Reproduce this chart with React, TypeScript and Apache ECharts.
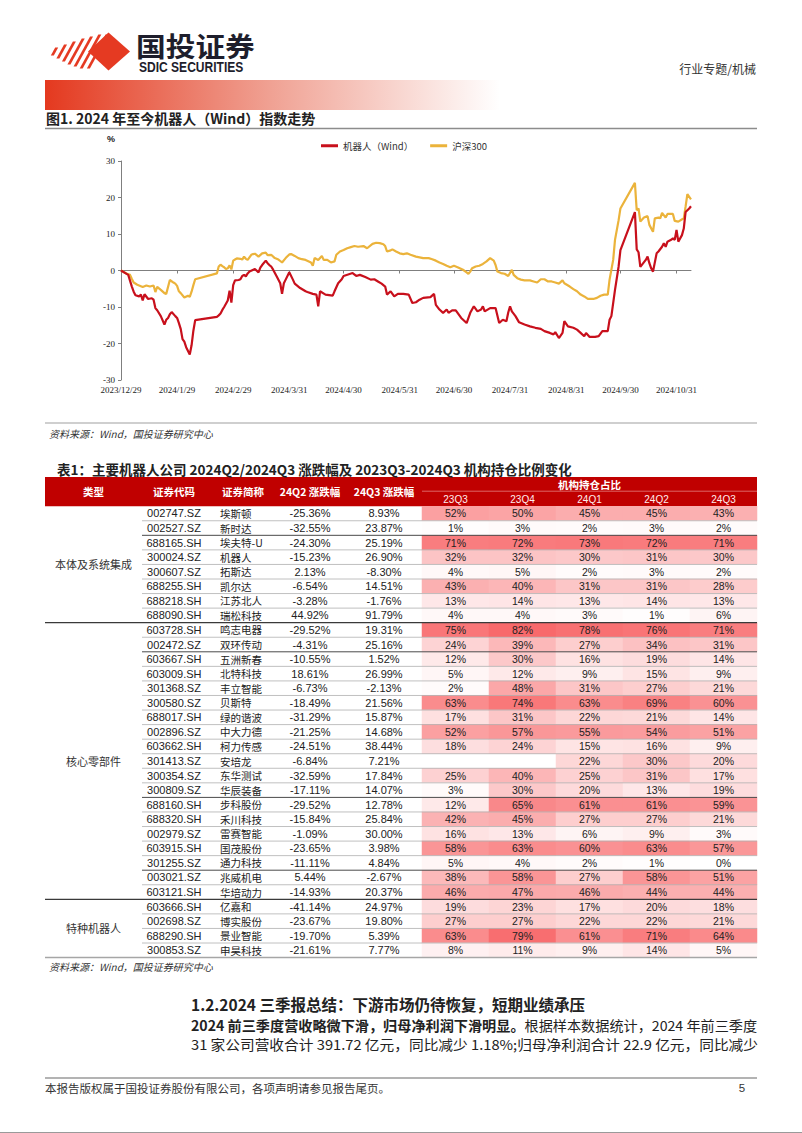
import React, { useEffect, useRef } from 'react';
import * as echarts from 'echarts';

const PAGE_W = 802;
const PAGE_H = 1133;

const CJK = '"Noto Sans CJK SC", "Noto Sans", sans-serif';
const SERIF = '"Liberation Serif", "Times New Roman", serif';
const SANS = '"Liberation Sans", Arial, sans-serif';

// ---------------- Figure 1 ----------------
const figTitle = '图1. 2024 年至今机器人（Wind）指数走势';
const seriesNames = ['机器人（Wind）', '沪深300'];
const seriesColors = ['#C8101C', '#EBB33B'];
const xStart = '2023/12/29';
const xEnd = '2024/11/8';
const xTickLabels = ['2023/12/29', '2024/1/29', '2024/2/29', '2024/3/31', '2024/4/30', '2024/5/31', '2024/6/30', '2024/7/31', '2024/8/31', '2024/9/30', '2024/10/31'];
const yMin = -30;
const yMax = 30;
const yStep = 10;

const robotIndex: [string, number][] = [
  ['2023/12/29', 0], ['2024/1/2', -1.2], ['2024/1/4', -4.4], ['2024/1/5', -5.8], ['2024/1/6', -6.8], ['2024/1/8', -7.1], ['2024/1/9', -6.6], ['2024/1/10', -8.2], ['2024/1/11', -6.5], ['2024/1/13', -7.8], ['2024/1/15', -7.6], ['2024/1/16', -8.0], ['2024/1/17', -10.3], ['2024/1/18', -10.9], ['2024/1/20', -12.5], ['2024/1/22', -14.8], ['2024/1/23', -13.5], ['2024/1/24', -13.0], ['2024/1/25', -12.0], ['2024/1/26', -11.4], ['2024/1/28', -12.5], ['2024/1/29', -13.0], ['2024/1/30', -14.4], ['2024/1/31', -16.0],
  ['2024/2/1', -18.8], ['2024/2/2', -19.5], ['2024/2/3', -21.0], ['2024/2/5', -23.0], ['2024/2/6', -20.5], ['2024/2/7', -16.5], ['2024/2/8', -13.6], ['2024/2/20', -12.7], ['2024/2/21', -12.3], ['2024/2/22', -11.8], ['2024/2/23', -10.8], ['2024/2/24', -10.0], ['2024/2/26', -8.2], ['2024/2/27', -5.5], ['2024/2/28', -8.8], ['2024/2/29', -4.0],
  ['2024/3/1', -2.7], ['2024/3/3', -2.6], ['2024/3/4', -2.4], ['2024/3/5', -1.5], ['2024/3/6', -1.2], ['2024/3/7', -1.6], ['2024/3/8', -0.8], ['2024/3/9', -0.3], ['2024/3/12', 0.4], ['2024/3/14', -0.5], ['2024/3/15', 0.8], ['2024/3/16', 1.5], ['2024/3/18', 2.7], ['2024/3/19', 2.0], ['2024/3/20', 1.5], ['2024/3/21', 1.1], ['2024/3/22', 0.3], ['2024/3/24', -1.6], ['2024/3/26', -3.5], ['2024/3/27', -6.4], ['2024/3/28', -3.5], ['2024/3/29', -2.5], ['2024/3/31', -0.5],
  ['2024/4/2', -2.5], ['2024/4/3', -3.6], ['2024/4/6', -4.8], ['2024/4/9', -5.7], ['2024/4/10', -5.9], ['2024/4/13', -6.4], ['2024/4/15', -6.6], ['2024/4/16', -9.8], ['2024/4/17', -5.7], ['2024/4/20', -6.6], ['2024/4/24', -6.9], ['2024/4/25', -5.7], ['2024/4/27', -3.5], ['2024/4/29', -2.4], ['2024/4/30', -1.5],
  ['2024/5/5', -0.7], ['2024/5/7', -1.5], ['2024/5/9', -1.2], ['2024/5/12', -1.8], ['2024/5/15', -2.5], ['2024/5/17', -2.4], ['2024/5/19', -3.0], ['2024/5/21', -3.6], ['2024/5/23', -4.4], ['2024/5/24', -6.6], ['2024/5/26', -5.7], ['2024/5/28', -7.1], ['2024/5/30', -6.4],
  ['2024/6/2', -6.4], ['2024/6/5', -6.6], ['2024/6/7', -8.9], ['2024/6/9', -8.7], ['2024/6/11', -8.0], ['2024/6/13', -7.5], ['2024/6/17', -7.3], ['2024/6/19', -6.4], ['2024/6/20', -9.4], ['2024/6/22', -10.7], ['2024/6/24', -11.6], ['2024/6/26', -10.7], ['2024/6/27', -11.6], ['2024/6/29', -10.9],
  ['2024/7/1', -10.9], ['2024/7/4', -13.0], ['2024/7/7', -14.4], ['2024/7/9', -11.6], ['2024/7/11', -9.8], ['2024/7/13', -11.2], ['2024/7/15', -10.7], ['2024/7/16', -9.8], ['2024/7/17', -11.2], ['2024/7/20', -10.3], ['2024/7/23', -10.3], ['2024/7/25', -14.4], ['2024/7/27', -13.5], ['2024/7/29', -13.9], ['2024/7/30', -11.5], ['2024/7/31', -9.8],
  ['2024/8/1', -11.2], ['2024/8/3', -12.5], ['2024/8/5', -14.2], ['2024/8/8', -14.8], ['2024/8/11', -15.3], ['2024/8/14', -15.7], ['2024/8/17', -16.0], ['2024/8/19', -16.6], ['2024/8/22', -17.1], ['2024/8/24', -17.5], ['2024/8/25', -16.9], ['2024/8/27', -18.5], ['2024/8/29', -17.1], ['2024/8/30', -13.9],
  ['2024/9/1', -15.3], ['2024/9/4', -15.7], ['2024/9/6', -16.2], ['2024/9/8', -17.1], ['2024/9/10', -18.0], ['2024/9/11', -17.1], ['2024/9/13', -18.2], ['2024/9/16', -18.2], ['2024/9/18', -18.0], ['2024/9/20', -16.6], ['2024/9/23', -16.6], ['2024/9/24', -13.5], ['2024/9/25', -12.5], ['2024/9/27', -5.3], ['2024/9/29', 1.1], ['2024/9/30', 5.6],
  ['2024/10/8', 16.0], ['2024/10/9', 5.8], ['2024/10/10', 5.0], ['2024/10/11', 1.0], ['2024/10/14', 2.9], ['2024/10/15', 3.8], ['2024/10/16', 2.0], ['2024/10/17', 0.6], ['2024/10/18', -0.3], ['2024/10/20', 4.7], ['2024/10/21', 5.2], ['2024/10/23', 6.5], ['2024/10/24', 7.5], ['2024/10/25', 6.5], ['2024/10/26', 7.9], ['2024/10/28', 8.4], ['2024/10/29', 8.8], ['2024/10/30', 8.4], ['2024/10/31', 11.1],
  ['2024/11/1', 7.9], ['2024/11/3', 9.7], ['2024/11/4', 11.5], ['2024/11/5', 16.0], ['2024/11/7', 17.0], ['2024/11/8', 17.6],
];

const hs300Index: [string, number][] = [
  ['2023/12/29', 0], ['2024/1/1', -0.8], ['2024/1/3', -1.2], ['2024/1/4', -2.3], ['2024/1/5', -3.3], ['2024/1/7', -3.9], ['2024/1/8', -4.1], ['2024/1/10', -4.5], ['2024/1/12', -4.1], ['2024/1/14', -4.4], ['2024/1/16', -4.1], ['2024/1/17', -5.9], ['2024/1/18', -4.5], ['2024/1/20', -5.3], ['2024/1/22', -6.2], ['2024/1/23', -6.4], ['2024/1/25', -2.6], ['2024/1/27', -3.3], ['2024/1/28', -3.6], ['2024/1/29', -4.2], ['2024/1/30', -5.7], ['2024/1/31', -6.2],
  ['2024/2/2', -7.4], ['2024/2/4', -6.9], ['2024/2/5', -7.2], ['2024/2/6', -5.8], ['2024/2/7', -4.0], ['2024/2/8', -2.4], ['2024/2/20', -0.8], ['2024/2/21', 1.1], ['2024/2/22', 1.6], ['2024/2/23', 1.2], ['2024/2/24', 0.9], ['2024/2/25', 0.4], ['2024/2/26', 0.6], ['2024/2/27', 1.4], ['2024/2/28', 0.3], ['2024/2/29', 2.7],
  ['2024/3/1', 3.0], ['2024/3/2', 3.3], ['2024/3/4', 3.2], ['2024/3/5', 3.0], ['2024/3/6', 3.8], ['2024/3/7', 3.2], ['2024/3/8', 2.9], ['2024/3/10', 4.3], ['2024/3/11', 4.5], ['2024/3/12', 4.6], ['2024/3/14', 3.8], ['2024/3/16', 4.7], ['2024/3/18', 4.9], ['2024/3/19', 4.2], ['2024/3/21', 4.3], ['2024/3/23', 3.4], ['2024/3/25', 3.0], ['2024/3/26', 2.6], ['2024/3/27', 2.2], ['2024/3/29', 3.4], ['2024/3/31', 4.4],
  ['2024/4/1', 4.5], ['2024/4/3', 4.0], ['2024/4/5', 3.4], ['2024/4/7', 3.1], ['2024/4/9', 2.9], ['2024/4/12', 2.2], ['2024/4/13', 1.3], ['2024/4/14', 3.4], ['2024/4/16', 2.9], ['2024/4/18', 4.0], ['2024/4/19', 2.9], ['2024/4/21', 2.9], ['2024/4/23', 2.2], ['2024/4/25', 2.5], ['2024/4/26', 4.3], ['2024/4/28', 5.2], ['2024/4/30', 5.6],
  ['2024/5/2', 6.1], ['2024/5/4', 6.4], ['2024/5/6', 6.7], ['2024/5/8', 6.5], ['2024/5/11', 6.7], ['2024/5/13', 6.1], ['2024/5/16', 7.3], ['2024/5/18', 7.6], ['2024/5/20', 7.5], ['2024/5/22', 7.2], ['2024/5/23', 6.7], ['2024/5/24', 5.2], ['2024/5/26', 5.5], ['2024/5/27', 5.8], ['2024/5/29', 5.2], ['2024/5/31', 4.7],
  ['2024/6/2', 4.5], ['2024/6/4', 4.7], ['2024/6/6', 4.3], ['2024/6/9', 3.8], ['2024/6/11', 3.6], ['2024/6/13', 3.4], ['2024/6/16', 3.4], ['2024/6/18', 3.1], ['2024/6/20', 2.7], ['2024/6/22', 2.2], ['2024/6/24', 1.8], ['2024/6/26', 1.3], ['2024/6/28', 0.9], ['2024/6/30', 1.3],
  ['2024/7/2', 0.9], ['2024/7/5', 0.2], ['2024/7/7', -0.5], ['2024/7/8', -0.9], ['2024/7/9', -0.3], ['2024/7/10', 0.6], ['2024/7/12', 1.1], ['2024/7/14', 1.3], ['2024/7/16', 1.8], ['2024/7/18', 2.5], ['2024/7/20', 3.4], ['2024/7/22', 2.7], ['2024/7/23', 1.5], ['2024/7/24', -0.3], ['2024/7/26', -0.7], ['2024/7/28', -0.9], ['2024/7/30', -1.5],
  ['2024/8/1', 0.2], ['2024/8/2', -1.2], ['2024/8/4', -2.1], ['2024/8/6', -2.5], ['2024/8/8', -2.7], ['2024/8/11', -2.7], ['2024/8/13', -3.0], ['2024/8/15', -3.3], ['2024/8/17', -2.4], ['2024/8/19', -2.4], ['2024/8/21', -3.0], ['2024/8/23', -3.0], ['2024/8/25', -3.3], ['2024/8/27', -3.6], ['2024/8/29', -2.7], ['2024/8/30', -3.5],
  ['2024/9/2', -4.4], ['2024/9/4', -5.1], ['2024/9/6', -5.7], ['2024/9/8', -6.6], ['2024/9/10', -7.1], ['2024/9/12', -7.8], ['2024/9/15', -7.8], ['2024/9/17', -7.5], ['2024/9/19', -6.9], ['2024/9/21', -6.6], ['2024/9/23', -6.6], ['2024/9/24', -2.5], ['2024/9/26', 2.9], ['2024/9/27', 8.4], ['2024/9/29', 13.8], ['2024/9/30', 17.0],
  ['2024/10/8', 24.0], ['2024/10/9', 16.5], ['2024/10/10', 17.0], ['2024/10/11', 13.4], ['2024/10/13', 14.5], ['2024/10/15', 14.9], ['2024/10/16', 12.5], ['2024/10/18', 10.6], ['2024/10/19', 14.3], ['2024/10/21', 14.5], ['2024/10/22', 14.3], ['2024/10/23', 15.8], ['2024/10/25', 14.5], ['2024/10/26', 15.5], ['2024/10/29', 15.5], ['2024/10/30', 13.6],
  ['2024/11/1', 13.4], ['2024/11/4', 14.3], ['2024/11/5', 17.5], ['2024/11/6', 20.9], ['2024/11/8', 19.5],
];

// ---------------- Table 1 ----------------
const tableTitle = '表1：主要机器人公司 2024Q2/2024Q3 涨跌幅及 2023Q3-2024Q3 机构持仓比例变化';
const headerLabels = ['类型', '证券代码', '证券简称', '24Q2 涨跌幅', '24Q3 涨跌幅'];
const holdingHeader = '机构持仓占比';
const quarters = ['23Q3', '23Q4', '24Q1', '24Q2', '24Q3'];
const groupNames = ['本体及系统集成', '核心零部件', '特种机器人'];
const groupSizes = [8, 19, 4];
const codes = ['002747.SZ', '002527.SZ', '688165.SH', '300024.SZ', '300607.SZ', '688255.SH', '688218.SH', '688090.SH', '603728.SH', '002472.SZ', '603667.SH', '603009.SH', '301368.SZ', '300580.SZ', '688017.SH', '002896.SZ', '603662.SH', '301413.SZ', '300354.SZ', '300809.SZ', '688160.SH', '688320.SH', '002979.SZ', '603915.SH', '301255.SZ', '003021.SZ', '603121.SH', '603666.SH', '002698.SZ', '688290.SH', '300853.SZ'];
const names = ['埃斯顿', '新时达', '埃夫特-U', '机器人', '拓斯达', '凯尔达', '江苏北人', '瑞松科技', '鸣志电器', '双环传动', '五洲新春', '北特科技', '丰立智能', '贝斯特', '绿的谐波', '中大力德', '柯力传感', '安培龙', '东华测试', '华辰装备', '步科股份', '禾川科技', '雷赛智能', '国茂股份', '通力科技', '兆威机电', '华培动力', '亿嘉和', '博实股份', '景业智能', '申昊科技'];
const chgQ2 = [-25.36, -32.55, -24.30, -15.23, 2.13, -6.54, -3.28, 44.92, -29.52, -4.31, -10.55, 18.61, -6.73, -18.49, -31.29, -21.25, -24.51, -6.84, -32.59, -17.11, -29.52, -15.84, -1.09, -23.65, -11.11, 5.44, -14.93, -41.14, -23.67, -19.70, -21.61];
const chgQ3 = [8.93, 23.87, 25.19, 26.90, -8.30, 14.51, -1.76, 91.79, 19.31, 25.16, 1.52, 26.99, -2.13, 21.56, 15.87, 14.68, 38.44, 7.21, 17.84, 14.07, 12.78, 25.84, 30.00, 3.98, 4.84, -2.67, 20.37, 24.97, 19.80, 5.39, 7.77];
const hold23Q3 = [52, 1, 71, 32, 4, 43, 13, 4, 75, 24, 12, 5, 2, 63, 17, 52, 18, null, 25, 3, 12, 42, 16, 58, 5, 38, 46, 19, 27, 63, 8];
const hold23Q4 = [50, 3, 72, 32, 5, 40, 14, 4, 82, 39, 30, 12, 48, 74, 31, 57, 24, null, 40, 30, 65, 45, 13, 63, 4, 58, 47, 23, 27, 79, 11];
const hold24Q1 = [45, 2, 73, 30, 2, 31, 13, 3, 78, 27, 16, 9, 31, 63, 22, 55, 15, 22, 25, 20, 61, 27, 6, 60, 2, 27, 46, 17, 22, 61, 9];
const hold24Q2 = [45, 3, 72, 31, 3, 31, 14, 1, 76, 34, 19, 15, 27, 69, 21, 54, 16, 30, 31, 13, 61, 27, 9, 63, 1, 58, 44, 20, 22, 71, 14];
const hold24Q3 = [43, 2, 71, 30, 2, 28, 13, 6, 71, 31, 14, 9, 21, 60, 14, 51, 9, 20, 17, 19, 59, 21, 3, 57, 0, 51, 44, 18, 21, 64, 5];

// ---------------- Page texts ----------------
const brandCn = '国投证券';
const brandEn = 'SDIC SECURITIES';
const docTag = '行业专题/机械';
const sourceNote = '资料来源：Wind，国投证券研究中心';
const sectionHeading = '1.2.2024 三季报总结：下游市场仍待恢复，短期业绩承压';
const paraBold = '2024 前三季度营收略微下滑，归母净利润下滑明显。';
const paraRest1 = '根据样本数据统计，2024 年前三季度';
const paraLine2 = '31 家公司营收合计 391.72 亿元，同比减少 1.18%;归母净利润合计 22.9 亿元，同比减少';
const footerText = '本报告版权属于国投证券股份有限公司，各项声明请参见报告尾页。';
const pageNo = '5';

// ---------------- Layout ----------------
const M_LEFT = 45;
const M_RIGHT = 757;
const HEAT_LEFT = 422;
const HEAD_TOP = 477;
const BODY_TOP = 506.2;
const ROW_H = 14.56;
const ROW_LINE_LEFT = 142;

const ts = (s: string) => {
  const [y, m, d] = s.split('/').map(Number);
  return Date.UTC(y, m - 1, d);
};
const fmtDate = (v: number) => {
  const d = new Date(v);
  return `${d.getUTCFullYear()}/${d.getUTCMonth() + 1}/${d.getUTCDate()}`;
};
const pct = (v: number) => `${v.toFixed(2)}%`;

function buildGraphics() {
  const g: any[] = [];
  const T = (x: number, y: number, text: string, o: any = {}) =>
    g.push({
      type: 'text', x, y, z: 40, silent: true, scaleX: o.scaleX ?? 1,
      style: {
        text, fill: o.fill ?? '#222', fontSize: o.size ?? 12, fontFamily: o.family ?? CJK,
        fontWeight: o.weight ?? 'normal', fontStyle: o.fstyle ?? 'normal',
        textAlign: o.align ?? 'left', align: o.align ?? 'left',
        textVerticalAlign: 'middle', verticalAlign: 'middle', rich: o.rich,
        lineHeight: o.lh ?? Math.round((o.size ?? 12) * 1.15),
      },
    });
  const L = (x1: number, y1: number, x2: number, y2: number, stroke: string, w: number) =>
    g.push({ type: 'line', z: 30, silent: true, shape: { x1, y1, x2, y2 }, style: { stroke, lineWidth: w } });

  // logo
  const logoRed = '#E53A22';
  const stripeH = [8, 14, 20, 26, 30, 34, 34];
  stripeH.forEach((h, i) => {
    const cx = 53 + i * 7.2;
    const cy = 51.5;
    const dx = h * 0.55;
    g.push({
      type: 'polygon', z: 10, silent: true,
      shape: { points: [[cx - dx / 2, cy + h / 2], [cx - dx / 2 + 3, cy + h / 2], [cx + dx / 2 + 3, cy - h / 2], [cx + dx / 2, cy - h / 2]] },
      style: { fill: logoRed },
    });
  });
  g.push({ type: 'polygon', z: 11, silent: true, shape: { points: [[88, 51.5], [108.5, 32.5], [130, 51.5], [108.5, 70.5]] }, style: { fill: logoRed } });
  T(136, 45, brandCn, { size: 27, weight: 'bold', fill: '#1E1E2C', scaleX: 1.1 });
  T(139, 67, brandEn, { size: 14, weight: 'bold', fill: '#1E1E2C', family: SANS, scaleX: 0.86 });
  T(756, 68, docTag, { size: 12, align: 'right', fill: '#333' });

  // gradient band
  g.push({
    type: 'rect', z: 5, silent: true, shape: { x: M_LEFT, y: 80, width: 455, height: 30 },
    style: { fill: { type: 'linear', x: 0, y: 0, x2: 1, y2: 0, colorStops: [{ offset: 0, color: '#E4391F' }, { offset: 0.5, color: '#F0A294' }, { offset: 1, color: '#FFFFFF' }] } },
  });

  // figure 1 frame
  T(46, 118, figTitle, { size: 14, weight: 'bold' });
  L(M_LEFT, 128.5, M_RIGHT, 128.5, '#8C8C8C', 1.6);
  T(111, 139, '%', { size: 9, weight: 'bold', align: 'center', family: SANS });
  L(M_LEFT, 423, M_RIGHT, 423, '#A0A0A0', 1.2);
  T(49, 433, sourceNote, { size: 10, fstyle: 'italic', fill: '#333' });

  // table 1 frame
  T(57, 469, tableTitle, { size: 13.5, weight: 'bold' });
  g.push({ type: 'rect', z: 0, silent: true, shape: { x: M_LEFT, y: HEAD_TOP, width: M_RIGHT - M_LEFT, height: BODY_TOP - HEAD_TOP }, style: { fill: '#C00000' } });
  const headX = [93.5, 174, 243, 310, 384];
  headerLabels.forEach((t, i) => T(headX[i], 491.6, t, { size: 10.5, weight: 'bold', fill: '#FFFFFF', align: 'center' }));
  T((HEAT_LEFT + M_RIGHT) / 2, 484.3, holdingHeader, { size: 10.5, weight: 'bold', fill: '#FFFFFF', align: 'center' });
  L(HEAT_LEFT, 491.2, M_RIGHT, 491.2, '#E58080', 0.8);

  // group labels and row lines
  let start = 0;
  groupSizes.forEach((n, gi) => {
    T(93.5, BODY_TOP + (start + n / 2) * ROW_H, groupNames[gi], { size: 11, align: 'center', fill: '#333' });
    start += n;
  });
  const groupEnds = new Set<number>();
  let acc = 0;
  groupSizes.forEach((n) => { acc += n; groupEnds.add(acc); });
  const darkRows = new Set([2, 10, 20, 25]);
  for (let r = 1; r < codes.length; r++) {
    const y = BODY_TOP + r * ROW_H;
    if (groupEnds.has(r)) L(M_LEFT, y, M_RIGHT, y, '#3A3A3A', 1.2);
    else L(ROW_LINE_LEFT, y, M_RIGHT, y, darkRows.has(r) ? '#4A4A4A' : '#B0B0B0', darkRows.has(r) ? 1 : 0.8);
  }
  const bottomY = BODY_TOP + codes.length * ROW_H;
  L(M_LEFT, bottomY, M_RIGHT, bottomY, '#A6A6A6', 1.5);
  T(49, bottomY + 8.5, sourceNote, { size: 10, fstyle: 'italic', fill: '#333' });

  // section text
  T(191, 1003.5, sectionHeading, { size: 15.5, weight: 'bold', lh: 16 });
  T(191, 1025, `{b|${paraBold}}{n|${paraRest1}}`, {
    size: 13.8, lh: 15, scaleX: 1.025,
    rich: {
      b: { fontSize: 13.8, lineHeight: 15, fontWeight: 'bold', fontFamily: CJK, fill: '#222', color: '#222' },
      n: { fontSize: 13.8, lineHeight: 15, fontWeight: 'normal', fontFamily: CJK, fill: '#222', color: '#222' },
    },
  });
  T(191, 1044, paraLine2, { size: 13.8, lh: 15, scaleX: 1.065 });

  // footer
  L(M_LEFT, 1078, M_RIGHT, 1078, '#9A9A9A', 1.5);
  T(45, 1087.5, footerText, { size: 11.5, fill: '#333' });
  T(742, 1087.5, pageNo, { size: 11.5, align: 'center', fill: '#333', family: SANS });
  L(0, 1132.5, PAGE_W, 1132.5, '#9A9A9A', 1);
  return g;
}

function buildOption(): any {
  const tickTs = xTickLabels.map(ts);
  const holdings = [hold23Q3, hold23Q4, hold24Q1, hold24Q2, hold24Q3];
  const heatData: any[] = [];
  holdings.forEach((col, xi) => col.forEach((v, yi) => { if (v != null) heatData.push([xi, yi, v]); }));

  const tableAxis = (offset: number, align: string, fmt: (i: number) => string, family: string, size: number) => ({
    type: 'category', gridIndex: 1, data: codes, inverse: true, position: 'left', offset,
    axisLine: { show: false }, axisTick: { show: false }, splitLine: { show: false },
    axisLabel: { interval: 0, margin: 0, align, fontFamily: family, fontSize: size, color: '#222', formatter: (_v: any, i: number) => fmt(i) },
  });

  return {
    animation: false,
    backgroundColor: '#FFFFFF',
    textStyle: { fontFamily: CJK },
    legend: {
      data: seriesNames, left: 321, top: 141, padding: 0, itemWidth: 17, itemHeight: 3, itemGap: 17, icon: 'rect',
      textStyle: { fontFamily: CJK, fontSize: 9.5, color: '#333' },
    },
    grid: [
      { left: 121, top: 161, width: 570, height: 219, outerBoundsMode: 'none', containLabel: false },
      { left: HEAT_LEFT, top: BODY_TOP, width: M_RIGHT - HEAT_LEFT, height: ROW_H * codes.length, outerBoundsMode: 'none', containLabel: false },
    ],
    xAxis: [
      {
        type: 'value', gridIndex: 0, min: ts(xStart), max: ts(xEnd), scale: true,
        axisLine: { show: false, onZero: false }, axisTick: { show: false }, splitLine: { show: false },
        axisLabel: { customValues: tickTs, formatter: (v: number) => fmtDate(v), fontFamily: SERIF, fontSize: 9, color: '#222', margin: 5, hideOverlap: false },
      },
      {
        type: 'value', gridIndex: 0, min: ts(xStart), max: ts(xEnd), scale: true,
        axisLine: { show: true, onZero: true, lineStyle: { color: '#7F7F7F', width: 1 } },
        axisTick: { show: true, inside: true, length: 3, customValues: tickTs, lineStyle: { color: '#7F7F7F' } },
        axisLabel: { show: false }, splitLine: { show: false },
      },
      {
        type: 'category', gridIndex: 1, data: quarters, position: 'top', z: 50,
        axisLine: { show: false }, axisTick: { show: false }, splitLine: { show: false },
        axisLabel: { interval: 0, margin: 2, color: '#FFEDED', fontFamily: SANS, fontSize: 10 },
      },
    ],
    yAxis: [
      {
        type: 'value', gridIndex: 0, min: yMin, max: yMax, interval: yStep,
        axisLine: { show: true, lineStyle: { color: '#7F7F7F' } },
        axisTick: { show: true, length: 3, lineStyle: { color: '#7F7F7F' } },
        splitLine: { show: false },
        axisLabel: { fontFamily: SERIF, fontSize: 9, color: '#222', margin: 6 },
      },
      tableAxis(HEAT_LEFT - 174, 'center', (i) => codes[i], SANS, 11),
      tableAxis(HEAT_LEFT - 220, 'left', (i) => names[i], CJK, 10.5),
      tableAxis(HEAT_LEFT - 310, 'center', (i) => pct(chgQ2[i]), SANS, 11),
      tableAxis(HEAT_LEFT - 384, 'center', (i) => pct(chgQ3[i]), SANS, 11),
    ],
    visualMap: {
      type: 'continuous', show: false, seriesIndex: 2, dimension: 2, min: 0, max: 82,
      inRange: { color: ['#FFFFFF', '#F8696B'] },
    },
    series: [
      {
        name: seriesNames[0], type: 'line', xAxisIndex: 0, yAxisIndex: 0, data: robotIndex.map(([d, v]) => [ts(d), v]),
        showSymbol: false, symbol: 'none', lineStyle: { width: 2.2, color: seriesColors[0] }, itemStyle: { color: seriesColors[0] }, z: 3,
      },
      {
        name: seriesNames[1], type: 'line', xAxisIndex: 0, yAxisIndex: 0, data: hs300Index.map(([d, v]) => [ts(d), v]),
        showSymbol: false, symbol: 'none', lineStyle: { width: 2.2, color: seriesColors[1] }, itemStyle: { color: seriesColors[1] }, z: 2,
      },
      {
        type: 'heatmap', xAxisIndex: 2, yAxisIndex: 1, data: heatData, z: 2,
        itemStyle: { borderWidth: 0 },
        emphasis: { disabled: true },
        label: { show: true, formatter: (p: any) => `${p.value[2]}%`, fontFamily: SANS, fontSize: 10.5, color: '#222' },
      },
    ],
    graphic: buildGraphics(),
  };
}

export default function App() {
  const ref = useRef<HTMLDivElement>(null);
  useEffect(() => {
    if (!ref.current) return;
    const chart = echarts.init(ref.current, null, { renderer: 'svg' });
    chart.setOption(buildOption());
    return () => chart.dispose();
  }, []);
  return (
    <div
      ref={ref}
      style={{ position: 'absolute', left: 0, top: 0, width: PAGE_W, height: PAGE_H, background: '#FFFFFF' }}
    />
  );
}
